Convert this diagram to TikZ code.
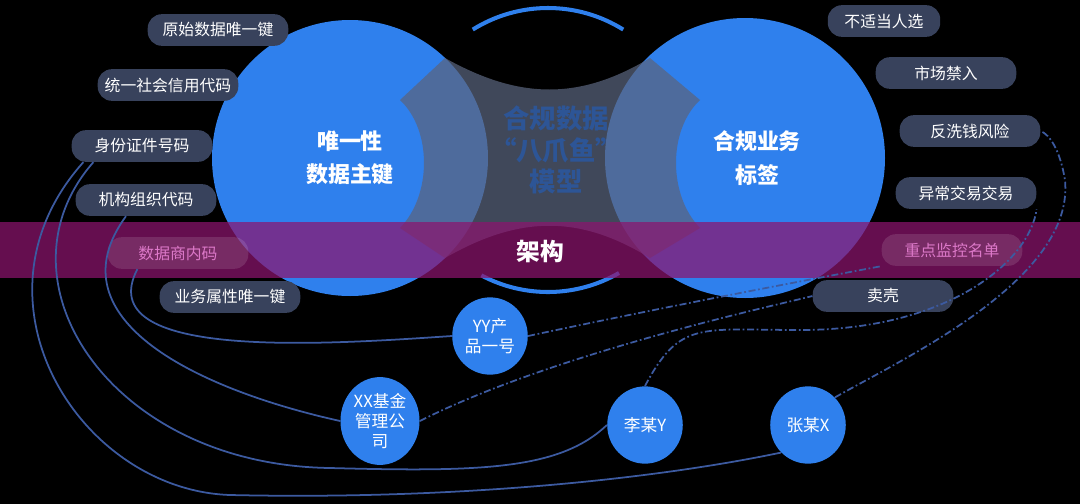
\documentclass[tikz,border=0pt]{standalone}
\usepackage{fontspec}
\setmainfont{Noto Sans CJK SC}
\usetikzlibrary{positioning,shapes.geometric}
\definecolor{bigblue}{RGB}{47,128,237}
\definecolor{pilldark}{RGB}{56,66,92}
\definecolor{bandpurple}{RGB}{140,20,110}
\definecolor{linkblue}{RGB}{60,90,160}
\definecolor{modeltext}{RGB}{45,85,150}
\definecolor{modelgray}{RGB}{90,100,125}
\tikzset{
  pill/.style={draw=none,fill=pilldark,rounded corners=8pt,minimum height=18pt,
    minimum width=80pt,inner sep=1pt,text=white,font=\fontsize{9}{10}\selectfont},
  pillband/.style={pill,fill=white,fill opacity=0.12,text opacity=1,text={rgb,255:red,220;green,120;blue,200}},
  person/.style={ellipse,fill=bigblue,text=white,inner sep=0pt,align=center,
    font=\fontsize{9.5}{11.5}\selectfont},
  solidlink/.style={draw=linkblue,line width=1pt},
  dashlink/.style={draw=linkblue,line width=1pt,dash pattern=on 4pt off 1.5pt on 1pt off 1.5pt}
}
\begin{document}
\begin{tikzpicture}[x=0.02cm,y=-0.02cm]
\useasboundingbox (0,0) rectangle (1080,504);
\fill[black] (0,0) rectangle (1080,504);
% two big circles
\fill[bigblue] (350,158) circle (138);
\fill[bigblue] (745,158) circle (140);
% middle model shape
\fill[modelgray,fill opacity=0.72] (445,58) -- (400,100) .. controls (432,130) and (432,195) .. (400,228)
  -- (445,258) .. controls (520,215) and (580,215) .. (650,258) -- (700,228)
  .. controls (668,195) and (668,130) .. (700,100) -- (650,58)
  .. controls (580,100) and (520,100) .. (445,58) -- cycle;
\draw[bigblue,line width=2.3pt] (548,150) ++(60:142) arc (60:118:142);
\draw[bigblue,line width=2.3pt] (548,150) ++(238:142) arc (238:302:142);
\node[font=\bfseries\fontsize{15}{18}\selectfont,text=modeltext,align=center] (model) at (556,150) {合规数据\\“八爪鱼”\\模型};
\node[font=\bfseries\fontsize{12.5}{19}\selectfont,text=white,align=center] (left) at (350,158) {唯一性\\数据主键};
\node[font=\bfseries\fontsize{12.5}{19}\selectfont,text=white,align=center] (right) at (757,158) {合规业务\\标签};
% band
\fill[bandpurple,fill opacity=0.72] (0,222) rectangle (1080,278);
\node[font=\bfseries\fontsize{13.5}{16}\selectfont,text=white] (frame) at (540,252) {架构};
% left pills
\node[pill] (p1) at (218,30) {原始数据唯一键};
\node[pill] (p2) at (168,85) {统一社会信用代码};
\node[pill] (p3) at (142,146) {身份证件号码};
\node[pill] (p4) at (146,200) {机构组织代码};
\node[pillband] (p5) at (178,253) {数据商内码};
\node[pill] (p6) at (230,297) {业务属性唯一键};
% right pills
\node[pill,minimum width=64pt] (q1) at (884,21) {不适当人选};
\node[pill] (q2) at (946,73) {市场禁入};
\node[pill] (q3) at (970,131) {反洗钱风险};
\node[pill] (q4) at (966,193) {异常交易交易};
\node[pillband] (q5) at (952,250) {重点监控名单};
\node[pill] (q6) at (883,296) {卖壳};
% people
\node[person,minimum width=43pt,minimum height=44pt] (yy) at (490,336) {YY产\\品一号};
\node[person,minimum width=45pt,minimum height=50pt] (xx) at (380,421) {XX基金\\管理公\\司};
\node[person,minimum width=43pt,minimum height=44pt] (li) at (645,425) {李某Y};
\node[person,minimum width=43pt,minimum height=44pt] (zh) at (808,425) {张某X};
% links
\draw[solidlink] (p3.south west) ++(12,0) .. controls (-40,300) and (80,490) .. (230,495)
  .. controls (450,500) and (650,480) .. (zh.south west);
\draw[solidlink] (p3.south west) ++(22,0) .. controls (-10,280) and (110,465) .. (330,468)
  .. controls (480,472) and (560,470) .. (li.west);
\draw[solidlink] (p4.south) ++(-20,0) .. controls (50,320) and (200,390) .. (xx.west);
\draw[solidlink] (p5.south west) ++(30,0) .. controls (90,360) and (320,345) .. (yy.west);
\draw[dashlink] (yy.east) .. controls (650,310) and (780,285) .. (q5.south west);
\draw[dashlink] (xx.east) .. controls (560,350) and (800,300) .. (q6.west);
\draw[dashlink] (li.north) .. controls (680,320) and (700,330) .. (800,330)
  .. controls (950,330) and (1030,260) .. (q4.south east);
\draw[dashlink] (zh.north east) .. controls (900,360) and (1075,280) .. (1065,180)
  .. controls (1060,150) and (1050,135) .. (q3.east);
\end{tikzpicture}
\end{document}
